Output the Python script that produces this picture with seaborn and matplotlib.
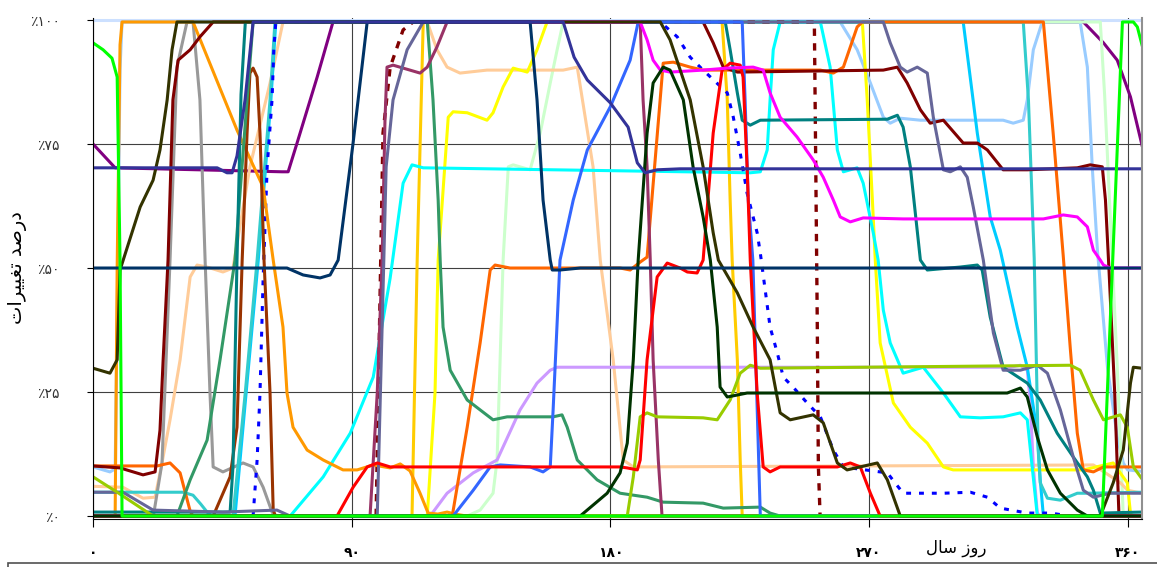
import matplotlib
matplotlib.use("Agg")
import matplotlib.pyplot as plt
from matplotlib.patches import Rectangle
import seaborn as sns

# day of year / percent change
TOP_DAY = [0, 365]
TOP_VAL = [100, 100]

LIGHTBLUE_DAY = [0, 5.9, 7.7, 8.4, 9.4, 10.1, 260, 265.9, 270.5, 275, 277.4, 280.9, 287.9, 316.7, 320.2, 323.7, 325.1, 327.2, 330.3, 343.5, 346, 347.7, 349.5, 353, 356.4, 358.5, 360, 365]
LIGHTBLUE_VAL = [9.9, 8.9, 9.5, 40, 90, 99.6, 99.6, 94, 87.3, 80.4, 79.2, 80.2, 79.8, 79.8, 79.2, 79.8, 83.9, 94, 99.6, 99.6, 90.5, 70.4, 53.6, 30, 15.9, 10.7, 9.3, 9]

PALEGREEN_DAY = [0, 130.2, 134.7, 139.2, 140.6, 142.7, 144.5, 146.2, 152.1, 155.6, 159.1, 161.5, 163.6, 350.5, 352, 354, 356.4, 358.5, 365]
PALEGREEN_VAL = [0, 0, 1.2, 4.6, 11.3, 51.6, 70.4, 70.8, 69.8, 77.2, 87.3, 94, 99.6, 99.6, 85, 60, 30, 0, 0]

PEACH_DAY = [0, 10.4, 17.4, 21.6, 24, 26.8, 30.3, 33.8, 36.2, 39.7, 45.2, 48.7, 54.6, 61.6, 66.1, 116.3, 119.7, 123.2, 127.7, 137.1, 163.6, 168.5, 174, 176.5, 181, 184.5, 188, 348.1, 357.5, 360, 365]
PEACH_VAL = [6, 5.8, 3.6, 3.8, 10.7, 19.4, 31.5, 48.2, 50.6, 50.2, 49.2, 50, 70.4, 87.3, 99.6, 99.6, 94, 90.5, 89.3, 89.9, 89.9, 90.5, 70.4, 51.6, 31.5, 11.3, 9.9, 10.3, 6.7, 5.2, 4.6]

GRAY_DAY = [0, 21, 24, 26.8, 29.2, 32.7, 34.8, 37.2, 39, 40.7, 41.8, 45.2, 52.2, 55.7, 59.2, 62.3, 63.5, 365]
GRAY_VAL = [0, 0, 10.7, 51.6, 90.5, 99.6, 99.6, 83.9, 51.6, 24.8, 9.9, 8.9, 10.7, 9.9, 5.8, 0.8, 0, 0]

LAVENDER_DAY = [0, 117.3, 123.2, 132.3, 140.6, 148.6, 154.5, 159.1, 161.5, 319.2, 322.7, 325.1, 326.1, 327.2, 328.6, 329.5, 365]
LAVENDER_VAL = [0, 0, 4.6, 8.7, 11.3, 21.4, 26.8, 29.4, 30, 30, 30.4, 29.4, 23.4, 9.9, 0.6, 0, 0]

YELLOW_DAY = [0, 116.3, 119, 120.1, 123.6, 125.3, 130.2, 137.1, 139.2, 142.7, 146.2, 151.1, 154.5, 158, 267.7, 269.4, 271.2, 272.2, 273.9, 278.5, 284.4, 290.3, 295.9, 299.3, 344.6, 355, 359.9, 361, 361.6, 365]
YELLOW_VAL = [0, 0, 24.8, 51.6, 80.4, 81.5, 81.3, 79.8, 81.3, 86.5, 90.3, 89.5, 94, 99.6, 99.6, 83.9, 63.7, 51.6, 34.9, 22.8, 17.9, 14.7, 9.9, 9.3, 9.3, 10.7, 6.7, 0.6, 0, 0]

GOLD_DAY = [0, 111, 112.8, 114.9, 218.9, 220.7, 221.7, 222.4, 224.2, 225.2, 225.9, 365]
GOLD_VAL = [0, 0, 51.6, 99.6, 99.6, 83.9, 63.7, 51.6, 31.5, 11.3, 0, 0]

SKYBLUE_DAY = [0, 49.4, 53.3, 57.5, 61.9, 63.6, 302.8, 307.7, 312.2, 315.7, 321.6, 325.1, 328.6, 329.6, 330.7, 365]
SKYBLUE_VAL = [0, 0, 25, 51.6, 83.9, 99.6, 99.6, 77.2, 60.3, 53.6, 38.1, 30, 16.7, 7.3, 0, 0]

TURQ_DAY = [0, 31.3, 34.8, 37.5, 39.7, 41.4, 48.7, 53, 57.1, 61.6, 63.3, 323.7, 325.5, 327.5, 328.9, 329.6, 332.1, 336.6, 342.5, 346, 365]
TURQ_VAL = [4.8, 4.8, 4.2, 2.4, 0.8, 0, 0, 25, 51.6, 83.9, 99.6, 99.6, 83.9, 52, 13.3, 6.7, 3.6, 3.2, 4.6, 4.6, 4.8]

CYAN_DAY = [0, 68.6, 80.1, 89.5, 97.5, 103.4, 107.9, 111, 114.9, 228.7, 232.2, 234.6, 235.6, 236.7, 239.1, 253.1, 256.5, 259, 261.1, 265.9, 268, 271.5, 273.2, 275, 277.4, 281.9, 288.9, 295.9, 301.8, 308.7, 316.7, 322.7, 325.1, 326.8, 328.6, 365]
CYAN_VAL = [0, 0, 7.9, 16.7, 28, 48, 67.1, 70.8, 70.2, 69.2, 69.4, 73.8, 83.9, 94, 99.6, 99.6, 90.5, 73.8, 69.4, 70.2, 67.1, 57.1, 51.6, 41.5, 34.9, 28.8, 30, 24.8, 20, 19.8, 20, 20.8, 19.4, 9.9, 0, 0]

ORANGE_DAY = [0, 7.7, 8.4, 9.4, 10.1, 34.8, 50.1, 59.2, 62.7, 66.1, 67.5, 69.6, 74.5, 80.1, 87, 91.9, 97.5, 103.4, 106.9, 110.3, 113.8, 116.6, 120, 123.2, 126, 130, 365]
ORANGE_VAL = [0, 0, 50, 95, 99.6, 99.6, 77.8, 66.3, 51.6, 38.1, 24.8, 17.9, 13.3, 11.3, 9.3, 9.3, 10.3, 9.7, 10.5, 9.1, 4.6, 0.6, 0.4, 0.8, 0.4, 0, 0]

DKORANGE_DAY = [0, 22.3, 26.8, 30.3, 33.8, 34.8, 125, 130.2, 134.7, 138.2, 139.9, 145.1, 158, 183.4, 186.9, 190.4, 192.8, 198.4, 201.9, 207.8, 212.3, 253.1, 257.6, 261.1, 265.9, 267.7, 330.7, 334.1, 337.6, 340.1, 342.5, 344.6, 348.1, 351.6, 365]
DKORANGE_VAL = [10.1, 10.1, 10.7, 8.7, 1, 0, 0, 17.9, 34.9, 49.6, 50.6, 50, 50, 50, 49.6, 51.2, 52.2, 91.3, 91.5, 90.5, 89.9, 89.9, 89.3, 90.5, 98.6, 99.6, 99.6, 77.2, 52.5, 33.5, 16.7, 9.3, 8.9, 9.9, 9.9]

BROWN_DAY = [0, 41.8, 47.7, 50.1, 51.9, 53.6, 54.6, 55.7, 57.1, 58.1, 59.5, 61.6, 62.7, 63.5, 365]
BROWN_VAL = [0, 0, 7.9, 17.9, 51.6, 77.2, 89.3, 90.3, 88.5, 77.2, 51.6, 24.8, 1.2, 0, 0]

MAROON_DAY = [0, 9.4, 17.4, 21.6, 23.3, 24.4, 26.1, 27.8, 29.6, 33.8, 37.2, 41.8, 212.3, 215.8, 219.3, 224.2, 275, 279.9, 283.3, 287.9, 291.3, 295.9, 302.8, 307.7, 311.2, 316.7, 325.1, 342.5, 347, 351.2, 352.3, 353.5, 355.5, 357, 365]
MAROON_VAL = [10.1, 9.7, 8.3, 8.9, 17.3, 31.5, 51.6, 83.9, 91.9, 94, 96.6, 99.6, 99.6, 95.4, 90.5, 89.5, 89.9, 90.5, 87.3, 81.9, 79.2, 79.8, 75.2, 75.2, 73.8, 69.8, 69.8, 70.2, 70.8, 70.4, 63.7, 50, 25, 0, 0]

SEAGREEN_DAY = [0, 29.2, 33.8, 39.7, 44.2, 47.7, 49.4, 53.6, 55.7, 116.3, 118.3, 120.1, 120.8, 121.8, 124.3, 130.2, 139.2, 144.1, 160.1, 163.2, 165, 168.5, 175.4, 183.4, 192.8, 198.4, 212.3, 219.3, 232.2, 235.6, 239.1, 365]
SEAGREEN_VAL = [0, 0, 7.3, 15.3, 31.5, 45, 51.6, 83.9, 99.6, 99.6, 83.9, 63.7, 51.6, 38.1, 29.4, 23.4, 19.4, 20, 20, 20.4, 17.9, 11.3, 7.3, 4.6, 3.8, 2.8, 2.6, 1.6, 1.8, 0.6, 0, 0]

TEAL_DAY = [0, 47.7, 48.7, 50.1, 51.5, 53, 220, 221.7, 224.2, 225.9, 228.7, 232.2, 276.4, 279.9, 281.9, 284.4, 287.9, 290.3, 301.8, 307.7, 309.4, 312.2, 316.7, 325.1, 329.6, 335.5, 341.1, 346, 348.1, 350.5, 365]
TEAL_VAL = [0.8, 0.8, 10, 51.6, 85, 99.6, 99.6, 94, 85.3, 79.8, 78.8, 79.8, 80, 80.8, 78.4, 70.4, 51.6, 49.6, 50.2, 50.6, 49.6, 40.1, 30, 26.8, 23.4, 16.7, 11.9, 7.9, 5.2, 0.6, 0.8]

PLUM_DAY = [0, 96.4, 98.9, 100.6, 101.6, 102.3, 104.4, 113.8, 116.3, 119.7, 123.2, 190.4, 191.4, 192.8, 193.9, 194.9, 196.7, 198, 365]
PLUM_VAL = [0, 0, 24.8, 51.6, 80, 90.5, 90.9, 89.3, 90.5, 94.6, 99.6, 99.6, 83.9, 70.4, 51.6, 31.5, 11.3, 0, 0]

BLUEGRAY_DAY = [0, 10.4, 20.9, 45.2, 64, 68.6, 98.9, 100.9, 102, 104.4, 109.3, 114.9, 275, 277.4, 280.9, 283.3, 286.8, 290.3, 292.4, 295.9, 298.3, 301.8, 304.2, 306.3, 309.8, 313.3, 316.7, 322.7, 328.6, 332.1, 336.6, 341.1, 344.6, 348.1, 354, 365]
BLUEGRAY_VAL = [4.8, 4.8, 1.2, 0.8, 1.2, 0, 0, 45, 70.4, 83.9, 94, 99.6, 99.6, 95.4, 90.5, 89.5, 90.5, 89.3, 80.4, 69.8, 69.4, 70.4, 68.3, 62.3, 51.6, 36.9, 29.4, 29.4, 30.4, 28.8, 21.4, 11.9, 5.2, 3.8, 4.6, 4.6]

YGREEN_DAY = [0, 8.4, 20.9, 185.9, 188, 190.4, 192.8, 196.3, 212.3, 217.2, 221.7, 225.2, 228.7, 232.2, 340.1, 343.5, 348.1, 351.6, 357.5, 359.9, 362, 365]
YGREEN_VAL = [7.9, 4.8, 0, 0, 7.9, 20, 20.8, 20, 19.8, 19.4, 23.4, 28.8, 30.4, 29.8, 30.4, 29.4, 23.4, 19.4, 20.4, 17.9, 9.9, 7.5]

BLUE_DAY = [0, 125.3, 132.3, 138.2, 141.7, 152.1, 156.6, 159.1, 160.1, 162.5, 167.1, 172, 180, 186.9, 189.7, 225.9, 226.9, 228, 229.6, 232.2, 365]
BLUE_VAL = [0, 0, 5.2, 9.9, 10.3, 9.9, 8.9, 9.9, 21.4, 51.6, 63.7, 73.8, 82.5, 91.9, 99.6, 99.6, 83.9, 63.7, 51.6, 0, 0]

RED_DAY = [0, 84.9, 90.5, 95.4, 98.9, 103.4, 183.4, 185.9, 189.4, 190.4, 192.8, 196.3, 199.8, 204.3, 206.8, 210.2, 212.3, 215.8, 218.9, 221.7, 225.2, 226.2, 227.6, 228.7, 231.1, 233.2, 235.6, 239.1, 259, 263.5, 267, 270.5, 273.9, 365]
RED_VAL = [0, 0, 5.8, 9.9, 10.7, 9.9, 9.9, 9.7, 9.3, 11.3, 31.5, 48.2, 51, 50, 49.2, 49, 51.6, 77.2, 89.9, 91.3, 90.9, 88.5, 70.4, 51.6, 24.8, 9.9, 8.9, 9.9, 9.9, 10.7, 9.9, 4.6, 0, 0]

MAGENTA_DAY = [120, 190.4, 192.8, 194.9, 197.4, 200.8, 212.3, 220.7, 229.7, 233.2, 235.6, 239.1, 245, 250.6, 254.1, 257.6, 260, 263.5, 268, 281.9, 330.7, 337.6, 342.5, 346, 348.1, 350.5, 351.6, 354, 365]
MAGENTA_VAL = [99.6, 99.6, 96, 91.9, 89.9, 89.5, 89.9, 90.3, 90.5, 89.9, 85.3, 80.4, 76.4, 71.8, 68.3, 63.7, 60.3, 59.3, 60.1, 59.9, 59.9, 60.7, 60.3, 58.3, 53.6, 51.6, 50.6, 50, 50]

OLIVE_DAY = [0, 5.9, 8.4, 9.4, 16.4, 20.9, 23.3, 25.8, 27.5, 29.2, 197.4, 200.8, 207.8, 212.3, 215.8, 217.6, 224.2, 229.7, 235.6, 239.1, 242.6, 250.6, 254.1, 259, 262.4, 272.9, 276.4, 280.9, 350.5, 355, 358.5, 361, 362, 365]
OLIVE_VAL = [29.8, 28.8, 31.5, 49.6, 62.3, 67.7, 73.8, 83.9, 94, 99.6, 99.6, 96, 83.9, 70.4, 57.1, 51.6, 45, 38.1, 31.5, 20.8, 19.4, 20.4, 18.8, 10.7, 9.3, 10.7, 7.3, 0, 0, 6.7, 13.3, 26.8, 30, 29.8]

DKGREEN_DAY = [0, 169.5, 178.9, 183.4, 185.9, 188, 189.7, 192.8, 194.9, 198.4, 200.8, 205.4, 208.8, 212.3, 214.8, 217.2, 218.2, 220.7, 224.2, 227.6, 318.1, 322.7, 325.1, 328.6, 332.1, 336.6, 342.5, 346, 365]
DKGREEN_VAL = [0, 0, 4.6, 8.7, 14.7, 31.5, 51.6, 77.2, 87.3, 90.5, 89.9, 83.9, 70.4, 60.3, 51.6, 38.1, 26, 24, 24.4, 24.8, 24.8, 25.8, 24, 15.9, 9.3, 4.6, 1.2, 0, 0]

PURPLE_DAY = [0, 7.7, 65.8, 67.9, 71, 78, 83.5, 344.6, 351.6, 356.4, 361, 365]
PURPLE_VAL = [75, 70.2, 69.4, 69.4, 75.2, 88.5, 99.6, 99.6, 95.4, 91.9, 84.5, 74.8]

MAROONDASH_DAY = [98.5, 100.9, 103.4, 107.9, 111.4, 251, 251.5, 252, 252.4, 253, 365]
MAROONDASH_VAL = [0, 77.2, 90.5, 98, 99.6, 99.6, 70, 40, 10, 0, 0]

BLUEDOT_DAY = [55.7, 57.1, 58.1, 59.2, 60.6, 62.3, 62.9, 63.6, 197.4, 203.3, 207.8, 212.3, 220.7, 222.8, 225.2, 227.6, 231.1, 232.2, 235.6, 238.1, 240.2, 243.6, 248.5, 253.1, 257.6, 261.1, 276.4, 281.9, 295.9, 305.3, 311.2, 315.7, 325.1, 333.1, 340.1, 365]
BLUEDOT_VAL = [0, 11.3, 24.8, 48, 70.4, 84, 94, 99.6, 99.6, 96.6, 92.5, 89.9, 85.3, 80.4, 73.2, 65.1, 57.1, 53, 38.1, 32.9, 28, 26, 22.8, 20, 13.3, 9.9, 8.7, 4.6, 4.6, 4.8, 3.8, 1.6, 0.6, 0.6, 0, 0]

DKNAVY_DAY = [0, 67.5, 73.1, 79, 82.5, 85.3, 90.5, 95.4, 152.1, 154.5, 156.6, 159.1, 159.8, 162.5, 169.5, 365]
DKNAVY_VAL = [50, 50, 48.6, 48, 48.6, 51.6, 75.2, 99.6, 99.6, 83.9, 63.7, 51.6, 49.6, 49.6, 50, 50]

NAVY_DAY = [0, 43.2, 46.6, 48.4, 50.1, 52.9, 55.7, 163.6, 167.4, 172, 180, 186.2, 189.4, 192.1, 196.3, 204.3, 365]
NAVY_VAL = [70.2, 70.2, 69.2, 69.2, 72.6, 83.9, 99.6, 99.6, 92.5, 87.9, 83.3, 78.4, 71.2, 69.2, 69.8, 70, 70]

GREEN_DAY = [0, 3.5, 6.6, 8.4, 8.7, 9.4, 10.1, 351.2, 358.2, 362, 363.4, 365]
GREEN_VAL = [95.4, 94, 92.3, 88.5, 77.2, 51.6, 0, 0, 99.6, 99.6, 98.6, 95]

X_TICKS = [0, 90, 180, 270, 360]
X_LABELS = ["\u06f0", "\u06f9\u06f0", "\u06f1\u06f8\u06f0", "\u06f2\u06f7\u06f0", "\u06f3\u06f6\u06f0"]
Y_TICKS = [0, 25, 50, 75, 100]
Y_LABELS = ["\u066a\u06f0", "\u066a\u06f2\u06f5", "\u066a\u06f5\u06f0", "\u066a\u06f7\u06f5", "\u066a\u06f1\u06f0\u06f0"]
# Arabic text pre-shaped (presentation forms, visual order) since matplotlib has no bidi
Y_TITLE = "\ufe95\ufe8d\ufeae\ufef4\ufef4\ufed0\ufe97 \ufeaa\ufebb\ufead\ufea9"   # درصد تغییرات
X_TITLE = "\ufedd\ufe8e\ufeb3 \ufeaf\ufeed\ufead"                            # روز سال

# (days, values, colour, width, style) in drawing order
series = [
    (TOP_DAY, TOP_VAL, "#CCE0FF", 2.2, "-"),
    (PURPLE_DAY, PURPLE_VAL, "#800080", 2.2, "-"),
    (LIGHTBLUE_DAY, LIGHTBLUE_VAL, "#99CCFF", 2.2, "-"),
    (PALEGREEN_DAY, PALEGREEN_VAL, "#CCFFCC", 2.2, "-"),
    (PEACH_DAY, PEACH_VAL, "#FFCC99", 2.2, "-"),
    (GRAY_DAY, GRAY_VAL, "#999999", 2.2, "-"),
    (LAVENDER_DAY, LAVENDER_VAL, "#CC99FF", 2.2, "-"),
    (YELLOW_DAY, YELLOW_VAL, "#FFFF00", 2.2, "-"),
    (GOLD_DAY, GOLD_VAL, "#FFCC00", 2.2, "-"),
    (SKYBLUE_DAY, SKYBLUE_VAL, "#00CCFF", 2.2, "-"),
    (TURQ_DAY, TURQ_VAL, "#33CCCC", 2.2, "-"),
    (CYAN_DAY, CYAN_VAL, "#00FFFF", 2.2, "-"),
    (MAROONDASH_DAY, MAROONDASH_VAL, "#800000", 2.4, (0, (2.2, 2.2))),
    (BLUEDOT_DAY, BLUEDOT_VAL, "#0000FF", 2.2, (0, (1.6, 2.6))),
    (ORANGE_DAY, ORANGE_VAL, "#FF9900", 2.2, "-"),
    (DKORANGE_DAY, DKORANGE_VAL, "#FF6600", 2.2, "-"),
    (BROWN_DAY, BROWN_VAL, "#993300", 2.2, "-"),
    (MAROON_DAY, MAROON_VAL, "#800000", 2.2, "-"),
    (SEAGREEN_DAY, SEAGREEN_VAL, "#339966", 2.2, "-"),
    (TEAL_DAY, TEAL_VAL, "#008080", 2.2, "-"),
    (PLUM_DAY, PLUM_VAL, "#993366", 2.2, "-"),
    (BLUEGRAY_DAY, BLUEGRAY_VAL, "#666699", 2.2, "-"),
    (YGREEN_DAY, YGREEN_VAL, "#99CC00", 2.2, "-"),
    (BLUE_DAY, BLUE_VAL, "#3366FF", 2.2, "-"),
    (RED_DAY, RED_VAL, "#FF0000", 2.2, "-"),
    (MAGENTA_DAY, MAGENTA_VAL, "#FF00FF", 2.2, "-"),
    (OLIVE_DAY, OLIVE_VAL, "#333300", 2.2, "-"),
    (DKGREEN_DAY, DKGREEN_VAL, "#003300", 2.2, "-"),
    (DKNAVY_DAY, DKNAVY_VAL, "#003366", 2.2, "-"),
    (NAVY_DAY, NAVY_VAL, "#333399", 2.2, "-"),
    (GREEN_DAY, GREEN_VAL, "#00FF00", 2.2, "-"),
]

plt.rcParams["font.family"] = ["DejaVu Sans"]

fig = plt.figure(figsize=(11.57, 5.67), dpi=100)
ax = fig.add_axes([0.0804, 0.0855, 0.9066, 0.8836])

for days, vals, col, lw, ls in series:
    sns.lineplot(x=days, y=vals, color=col, linewidth=lw, linestyle=ls,
                 estimator=None, sort=False, legend=False, ax=ax)

ax.set_xlim(0, 365)
ax.set_ylim(-0.5, 100.5)
ax.set_xticks(X_TICKS)
ax.set_xticklabels(X_LABELS, fontsize=10, fontweight="bold")
ax.set_yticks(Y_TICKS)
ax.set_yticklabels(Y_LABELS, fontsize=10, color="#333333")
ax.tick_params(axis="x", length=6, pad=14)
ax.tick_params(axis="y", length=4, pad=20)
ax.grid(True, color="#404040", linewidth=0.8)
ax.set_axisbelow(True)

for side in ["left", "bottom"]:
    ax.spines[side].set_color("black")
    ax.spines[side].set_linewidth(0.8)
ax.spines["top"].set_visible(False)
ax.spines["right"].set_color("#909090")
ax.spines["right"].set_linewidth(1.5)

ax.set_ylabel(Y_TITLE, fontsize=14)
ax.yaxis.set_label_coords(-0.063, 0.5)
ax.set_xlabel(X_TITLE, fontsize=12)
ax.xaxis.set_label_coords(0.8227, -0.04)

# frame of the (cut off) legend box at the bottom
fig.patches.append(Rectangle((8 / 1157, -0.05), 1.2, 0.057, transform=fig.transFigure,
                             fill=False, edgecolor="#505050", linewidth=1.2))

fig.savefig("out.png", dpi=100, facecolor="white")
